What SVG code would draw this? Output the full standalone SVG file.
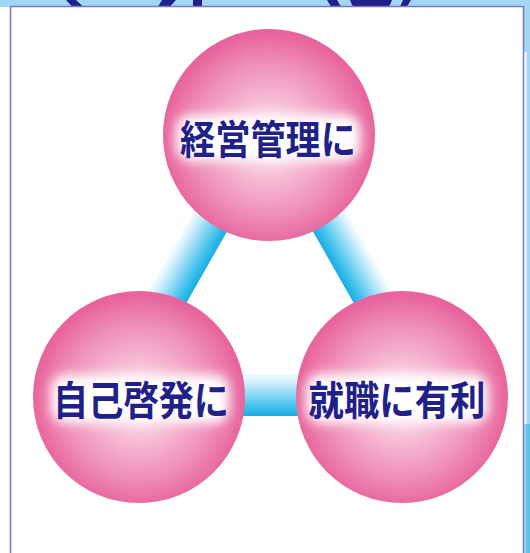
<svg xmlns="http://www.w3.org/2000/svg" width="530" height="553" viewBox="0 0 530 553">
  <style>
    .label { font-family: "Noto Sans CJK JP", "Noto Sans CJK SC", "Noto Sans", sans-serif; font-weight: 700; font-size: 40px; fill: #1f2088; text-anchor: middle; }
    .sphere { fill: url(#sphereGrad); }
    .glow { fill: #ffffff; filter: url(#blur); }
    .navy { fill: #1f2088; }
  </style>
  <defs>
    <radialGradient id="sphereGrad" cx="0.5" cy="0.52" r="0.5">
      <stop offset="0" stop-color="#fdeef5"/>
      <stop offset="0.3" stop-color="#f8c6dc"/>
      <stop offset="0.72" stop-color="#ef8fb9"/>
      <stop offset="1" stop-color="#e8649c"/>
    </radialGradient>
    <filter id="blur" x="-30%" y="-60%" width="160%" height="220%">
      <feGaussianBlur stdDeviation="6"/>
    </filter>
    <linearGradient id="barL" gradientUnits="userSpaceOnUse" x1="190.2" y1="215.2" x2="225" y2="235">
      <stop offset="0" stop-color="#ffffff"/>
      <stop offset="0.2" stop-color="#d6f1fb"/>
      <stop offset="0.8" stop-color="#3cbfec"/>
      <stop offset="1" stop-color="#18ade4"/>
    </linearGradient>
    <linearGradient id="barR" gradientUnits="userSpaceOnUse" x1="349.8" y1="215.2" x2="315" y2="235">
      <stop offset="0" stop-color="#ffffff"/>
      <stop offset="0.2" stop-color="#d6f1fb"/>
      <stop offset="0.8" stop-color="#3cbfec"/>
      <stop offset="1" stop-color="#18ade4"/>
    </linearGradient>
    <linearGradient id="barB" gradientUnits="userSpaceOnUse" x1="0" y1="374" x2="0" y2="416">
      <stop offset="0" stop-color="#f2fbfe"/>
      <stop offset="0.2" stop-color="#d2f0fb"/>
      <stop offset="0.8" stop-color="#3cbfec"/>
      <stop offset="1" stop-color="#18ade4"/>
    </linearGradient>
  </defs>

  <!-- background -->
  <rect x="0" y="0" width="530" height="553" fill="#ffffff"/>
  <rect x="0" y="0" width="530" height="7" fill="#a3d8f4"/>
  <rect x="523" y="0" width="7" height="553" fill="#a3d8f4"/>
  <rect x="524" y="52" width="2.5" height="372" fill="#ffffff"/>
  <rect x="526" y="424" width="4" height="129" fill="#5ec2ea"/>

  <!-- cut-off heading shapes at top -->
  <g id="heading-fragment">
    <path class="navy" d="M66,0 L76,0 L83,6.5 L72,6.5 Z"/>
    <path class="navy" d="M162,0 L176,0 L170,6.5 L158,6.5 Z"/>
    <rect class="navy" x="193" y="0" width="9" height="6.5"/>
    <path class="navy" d="M327,0 L337,0 L341,6.5 L331,6.5 Z"/>
    <path class="navy" d="M350,0 L392,0 L390,5 Q389,6.5 386,6.5 L356,6.5 Q353,6.5 352,5 Z"/>
    <path class="navy" d="M403,0 L411,0 L407,6.5 L400,6.5 Z"/>
  </g>

  <!-- panel -->
  <rect x="10.5" y="6.5" width="513" height="560" fill="#ffffff" stroke="#7674cf" stroke-width="1.5"/>

  <!-- connectors -->
  <g id="connectors">
    <polygon points="198.9,200 245,200 176.6,320 131.1,320" fill="url(#barL)"/>
    <polygon points="341.1,200 295,200 363.4,320 408.9,320" fill="url(#barR)"/>
    <rect x="220" y="374" width="100" height="42" fill="url(#barB)"/>
  </g>

  <!-- nodes -->
  <g id="node-management">
    <circle class="sphere" cx="269" cy="135" r="106"/>
    <rect class="glow" x="176" y="115" width="184" height="46" rx="14"/>
    <text class="label" x="268" y="154" textLength="176" lengthAdjust="spacingAndGlyphs">経営管理に</text>
  </g>
  <g id="node-selfdev">
    <circle class="sphere" cx="139" cy="397" r="106"/>
    <rect class="glow" x="51" y="375" width="178" height="48" rx="14"/>
    <text class="label" x="141" y="415" textLength="176" lengthAdjust="spacingAndGlyphs">自己啓発に</text>
  </g>
  <g id="node-career">
    <circle class="sphere" cx="402" cy="397" r="106"/>
    <rect class="glow" x="306" y="374" width="182" height="49" rx="14"/>
    <text class="label" x="397" y="415" textLength="177" lengthAdjust="spacingAndGlyphs">就職に有利</text>
  </g>
</svg>
